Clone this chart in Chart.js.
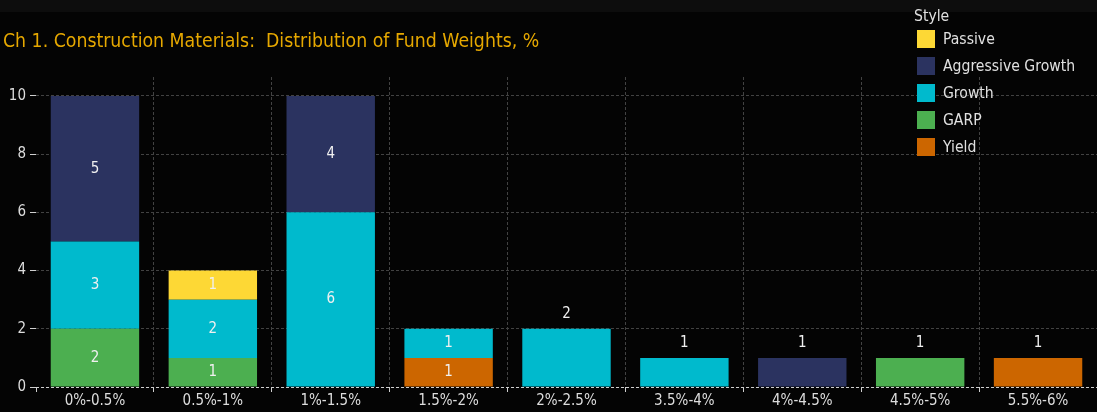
<!DOCTYPE html>
<html>
<head>
<meta charset="utf-8">
<script src="https://cdn.jsdelivr.net/npm/chart.js@4/dist/chart.umd.min.js"></script>
<style>
  html, body { margin: 0; padding: 0; background: #040404; overflow: hidden; }
  #wrap { position: relative; width: 1097px; height: 412px; }
  #topband { position: absolute; left: 0; top: 0; width: 1097px; height: 12px; background: #0d0d0d; }
  #title {
    position: absolute; left: 3px; top: 29px; white-space: pre;
    font: 19.3px "Liberation Sans Narrow", "DejaVu Sans Condensed", Roboto, sans-serif;
    color: #e6a800;
  }
  #legend {
    position: absolute; left: 914px; top: 6px;
    font: 15.6px "Liberation Sans Narrow", "DejaVu Sans Condensed", Roboto, sans-serif;
    color: #e0e0e0;
  }
  #legend .head { height: 20px; line-height: 20px; }
  #legend .row { position: relative; height: 27px; line-height: 27px; padding-left: 29px; }
  #legend .sw { position: absolute; left: 3px; top: 4px; width: 18px; height: 18px; }
  canvas { position: absolute; left: 0; top: 0; }
</style>
</head>
<body>
<div id="wrap">
  <div id="topband"></div>
  <canvas id="chart" width="1097" height="412"></canvas>
  <div id="title">Ch 1. Construction Materials:  Distribution of Fund Weights, %</div>
  <div id="legend"></div>
</div>
<script>
const FONT = '"Liberation Sans Narrow", "DejaVu Sans Condensed", Roboto, sans-serif';

const categories = ['0%-0.5%', '0.5%-1%', '1%-1.5%', '1.5%-2%', '2%-2.5%', '3.5%-4%', '4%-4.5%', '4.5%-5%', '5.5%-6%'];
const yieldVals     = [0, 0, 0, 1, 0, 0, 0, 0, 1];
const garpVals      = [2, 1, 0, 0, 0, 0, 0, 1, 0];
const growthVals    = [3, 2, 6, 1, 2, 1, 0, 0, 0];
const aggGrowthVals = [5, 0, 4, 0, 0, 0, 1, 0, 0];
const passiveVals   = [0, 1, 0, 0, 0, 0, 0, 0, 0];
const yTicks = [0, 2, 4, 6, 8, 10];

// stacked bottom -> top
const series = [
  { label: 'Yield', data: yieldVals, color: '#cc6600' },
  { label: 'GARP', data: garpVals, color: '#4caf50' },
  { label: 'Growth', data: growthVals, color: '#00bacd' },
  { label: 'Aggressive Growth', data: aggGrowthVals, color: '#2b3360' },
  { label: 'Passive', data: passiveVals, color: '#fdd835' }
];

// legend, top -> bottom
const legendEl = document.getElementById('legend');
legendEl.innerHTML = '<div class="head">Style</div>' + series.slice().reverse().map(s =>
  '<div class="row"><span class="sw" style="background:' + s.color + '"></span>' + s.label + '</div>'
).join('');

// value labels: inside segments, or above the bar when it has a single segment
const valueLabels = {
  id: 'valueLabels',
  afterDatasetsDraw(chart) {
    const ctx = chart.ctx;
    ctx.save();
    ctx.font = '15px ' + FONT;
    ctx.fillStyle = '#f0f0f0';
    ctx.textAlign = 'center';
    ctx.textBaseline = 'middle';
    categories.forEach((c, i) => {
      const parts = chart.data.datasets.map((d, di) => di).filter(di => chart.data.datasets[di].data[i] > 0);
      parts.forEach(di => {
        const bar = chart.getDatasetMeta(di).data[i];
        const v = chart.data.datasets[di].data[i];
        const y = parts.length === 1 ? bar.y - 15 : (bar.y + bar.base) / 2;
        ctx.fillText(String(v), bar.x, y);
      });
    });
    ctx.restore();
  }
};

new Chart(document.getElementById('chart').getContext('2d'), {
  type: 'bar',
  data: {
    labels: categories,
    datasets: series.map(s => ({
      label: s.label,
      data: s.data,
      backgroundColor: s.color,
      borderWidth: 0,
      barPercentage: 0.75,
      categoryPercentage: 1.0
    }))
  },
  options: {
    responsive: false,
    animation: false,
    layout: { padding: { top: 77, left: 0, right: 0, bottom: 0 } },
    plugins: {
      legend: { display: false },
      tooltip: { enabled: false }
    },
    scales: {
      x: {
        stacked: true,
        afterFit: axis => { axis.height = 25; },
        grid: {
          offset: true,
          color: c => c.index === 0 ? 'rgba(0,0,0,0)' : '#424242',
          tickColor: '#cfcfcf',
          tickLength: 5
        },
        border: { display: false, dash: [3, 2] },
        ticks: { color: '#dddddd', font: { family: FONT, size: 15 }, padding: 0, maxRotation: 0 }
      },
      y: {
        stacked: true,
        min: 0,
        max: 10.65,
        afterBuildTicks: axis => { axis.ticks = yTicks.map(v => ({ value: v })); },
        afterFit: axis => { axis.width = 36; },
        grid: {
          color: c => (c.tick && c.tick.value === 0) ? '#cfcfcf' : '#424242',
          tickColor: '#cfcfcf',
          tickLength: 6
        },
        border: { display: false, dash: [3, 2] },
        ticks: { color: '#dddddd', font: { family: FONT, size: 15 }, padding: 4 }
      }
    }
  },
  plugins: [valueLabels]
});
</script>
</body>
</html>
